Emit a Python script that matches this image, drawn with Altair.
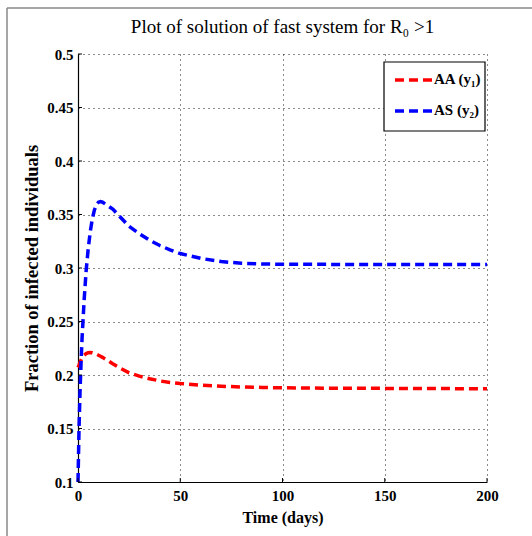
import altair as alt
import pandas as pd

# time points (days)
t = [0, 0.5, 1, 1.5, 2, 3, 4, 5, 6, 7, 8, 9, 10, 11, 12, 14, 17, 20, 25, 30,
     35, 40, 45, 50, 60, 70, 80, 90, 100, 120, 150, 175, 200]
# AA (y1) - red
aa = [0.207, 0.209, 0.212, 0.214, 0.216, 0.2185, 0.220, 0.2208, 0.221, 0.2208,
      0.2202, 0.2195, 0.2185, 0.2175, 0.2165, 0.2142, 0.2105, 0.207, 0.202, 0.199,
      0.1965, 0.1945, 0.193, 0.192, 0.1905, 0.1895, 0.1888, 0.1884, 0.188, 0.1877,
      0.1875, 0.1873, 0.1872]
# AS (y2) - blue
as_ = [0.100, 0.150, 0.185, 0.212, 0.235, 0.270, 0.298, 0.318, 0.334, 0.346,
       0.354, 0.359, 0.3615, 0.362, 0.3615, 0.359, 0.355, 0.349, 0.339, 0.332,
       0.326, 0.321, 0.317, 0.3135, 0.309, 0.306, 0.3045, 0.3038, 0.3035, 0.3034,
       0.3033, 0.3033, 0.3033]

series_names = ["AA (y\u2081)", "AS (y\u2082)"]
series_colors = ["#ff0000", "#0000ff"]

x_ticks = [0, 50, 100, 150, 200]
y_ticks = [0.1, 0.15, 0.2, 0.25, 0.3, 0.35, 0.4, 0.45, 0.5]

title_text = "Plot of  solution of fast system for R\u2080 >1"

W, H = 409, 428
FONT = "Liberation Serif"

df = pd.concat([
    pd.DataFrame({"t": t, "v": aa, "s": series_names[0]}),
    pd.DataFrame({"t": t, "v": as_, "s": series_names[1]}),
])

xscale = alt.Scale(domain=[0, 200], nice=False, zero=False)
yscale = alt.Scale(domain=[0.1, 0.5], nice=False, zero=False)
cscale = alt.Scale(domain=series_names, range=series_colors)

lines = alt.Chart(df).mark_line(strokeDash=[9, 5], strokeWidth=3.5).encode(
    x=alt.X("t:Q", scale=xscale,
            axis=alt.Axis(values=x_ticks, title="Time (days)", format="d",
                          grid=True, gridDash=[1, 4], gridColor="#000",
                          gridOpacity=0.9, ticks=False, labelPadding=6,
                          labelFlush=False,
                          titlePadding=6, titleFontSize=16)),
    y=alt.Y("v:Q", scale=yscale,
            axis=alt.Axis(values=y_ticks, title="Fraction of infected individuals",
                          format="~g",
                          grid=True, gridDash=[1, 4], gridColor="#000",
                          gridOpacity=0.9, ticks=False, labelPadding=5,
                          labelFlush=False,
                          titlePadding=5, titleFontSize=18.5)),
    color=alt.Color("s:N", scale=cscale, legend=None),
)

xt_df = pd.DataFrame({"x": x_ticks})
yt_df = pd.DataFrame({"y": y_ticks})

xticks_in = alt.Chart(xt_df).mark_rule(color="#000", strokeWidth=1).encode(
    x=alt.X("x:Q", scale=xscale), y=alt.value(H), y2=alt.value(H - 4))
yticks_in = alt.Chart(yt_df).mark_rule(color="#000", strokeWidth=1).encode(
    y=alt.Y("y:Q", scale=yscale), x=alt.value(0), x2=alt.value(4))

one = pd.DataFrame({"a": [0]})
title_mark = alt.Chart(one).mark_text(
    text=title_text, font=FONT, fontSize=19, baseline="middle", align="center",
    color="#000").encode(x=alt.value(W / 2), y=alt.value(-27))

frame_top = alt.Chart(one).mark_rule(color="#888", strokeWidth=1.5).encode(
    x=alt.value(-71), x2=alt.value(460), y=alt.value(-46))
frame_left = alt.Chart(one).mark_rule(color="#888", strokeWidth=1.5).encode(
    x=alt.value(-71), y=alt.value(-46), y2=alt.value(490))

# manual legend (box + dashed samples + labels)
leg_box = alt.Chart(one).mark_rect(fill="#fff", stroke="#000", strokeWidth=1.2).encode(
    x=alt.value(306), x2=alt.value(407), y=alt.value(8), y2=alt.value(77))
leg_layers = []
for i, (name, col) in enumerate(zip(series_names, series_colors)):
    yy = 26 + 31 * i
    leg_layers.append(alt.Chart(one).mark_rule(
        color=col, strokeWidth=3.5, strokeDash=[9, 5]).encode(
        x=alt.value(317), x2=alt.value(354), y=alt.value(yy)))
    leg_layers.append(alt.Chart(one).mark_text(
        text=name, font=FONT, fontSize=15, fontWeight="bold", color="#000",
        align="left", baseline="middle").encode(
        x=alt.value(356), y=alt.value(yy - 1)))

chart = alt.layer(frame_top, frame_left, lines, xticks_in, yticks_in, title_mark,
                  leg_box, *leg_layers).properties(
    width=W, height=H,
    autosize=alt.AutoSizeParams(type="none"),
    padding={"left": 78, "top": 54, "right": 45, "bottom": 54},
    background="#ffffff",
).configure_view(stroke=None).configure_axis(
    domainColor="#000", domainWidth=1.2,
    labelFont=FONT, labelFontSize=15, labelFontWeight="bold", labelColor="#000",
    titleFont=FONT, titleFontWeight="bold", titleColor="#000",
)

chart.save("out.html", embed_options={"renderer": "svg", "actions": False})
